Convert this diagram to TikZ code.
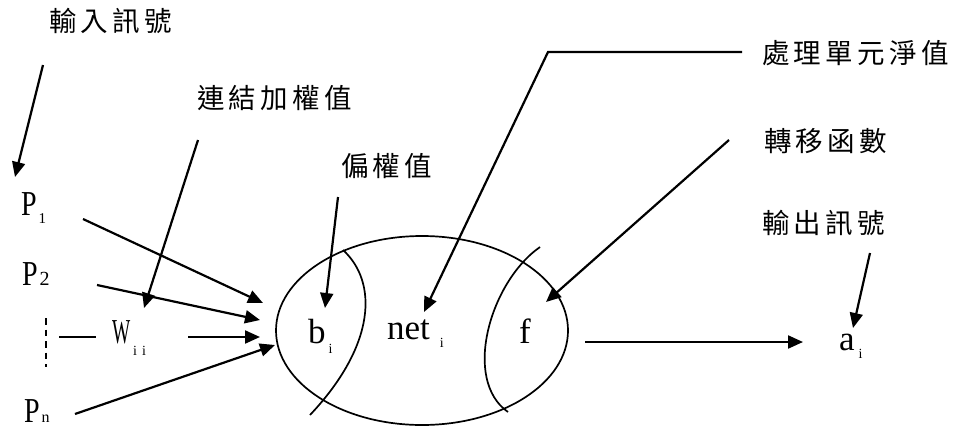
\documentclass[tikz,border=0pt]{standalone}
\usepackage{fontspec}
\usetikzlibrary{arrows.meta,shapes.geometric}
\newfontfamily\cjkf[LetterSpace=16]{Noto Sans CJK TC}
\newfontfamily\latf{Liberation Serif}
\newcommand\cjktxt{\cjkf\fontsize{27.5}{27.5}\selectfont}
\newcommand\lattxt{\latf\fontsize{35}{35}\selectfont}
\newcommand\subsc[3]{\hspace{#1pt}\raisebox{-#2pt}{\fontsize{14}{14}\selectfont #3}}
\newcommand\condP{\scalebox{0.8}[1]{P}}
\tikzset{
  lbl/.style={anchor=base west, inner sep=0pt, outer sep=0pt, font=\cjktxt},
  ltx/.style={anchor=base west, inner sep=0pt, outer sep=0pt, font=\lattxt},
  arr/.style={line width=2.2pt, -{Triangle[length=15pt,width=13pt]}},
  ln/.style={line width=2.2pt},
  fine/.style={line width=1.7pt},
}
\begin{document}
\begin{tikzpicture}[x=1pt,y=-1pt]
\path[use as bounding box] (0,0) rectangle (953,431);

% Chinese labels
\node[lbl] (tIn)  at (49,31)   {輸入訊號};
\node[lbl] (tW)   at (197,108) {連結加權值};
\node[lbl] (tB)   at (341,176) {偏權值};
\node[lbl] (tNet) at (762,63)  {處理單元淨值};
\node[lbl] (tF)   at (764,151) {轉移函數};
\node[lbl] (tOut) at (762,233) {輸出訊號};

% Latin labels
\node[ltx] (p1) at (21,215)  {\condP\hspace{2pt}\raisebox{-8pt}{\fontsize{15}{15}\selectfont 1}};
\node[ltx] (p2) at (22,285)  {\condP\hspace{2pt}{\fontsize{20}{20}\selectfont 2}};
\node[ltx] (pn) at (24,422)  {\condP\hspace{2pt}{\fontsize{16}{16}\selectfont n}};
\node[ltx] (w)  at (112,343) {\scalebox{0.55}[1]{W}\subsc{3}{12}{i}\subsc{5}{12}{i}};
\node[ltx] (b)  at (308,343) {b\subsc{3}{10}{i}};
\node[ltx] (net) at (387,339) {net\subsc{10}{8}{i}};
\node[ltx] (f)  at (519,343) {f};
\node[ltx] (a)  at (839,350) {a\subsc{4}{8}{i}};

% neuron body
\node[draw, ellipse, fine, minimum width=292pt, minimum height=189pt, inner sep=0pt] (cell) at (422,330.5) {};
\coordinate (bTop) at (343,250);
\coordinate (bBot) at (310,415);
\coordinate (fTop) at (540,247);
\coordinate (fBot) at (508,412);
\draw[fine] (bTop) .. controls (378,282) and (376,345) .. (bBot);
\draw[fine] (fTop) .. controls (490,282) and (462,380) .. (fBot);

% input side
\coordinate (inS) at (43,65);   \coordinate (inE) at (15,177);
\coordinate (p1S) at (83,219);  \coordinate (p1E) at (263,303);
\coordinate (p2S) at (97,285);  \coordinate (p2E) at (260,320);
\coordinate (wS) at (188,337);  \coordinate (wE) at (260,337);
\coordinate (pnS) at (75,414);  \coordinate (pnE) at (275,345);
\coordinate (dashT) at (46,318); \coordinate (dashB) at (46,367);
\coordinate (shL) at (59,337);  \coordinate (shR) at (96,337);
\draw[arr] (inS) -- (inE);
\draw[arr] (p1S) -- (p1E);
\draw[arr] (p2S) -- (p2E);
\draw[arr] (wS) -- (wE);
\draw[arr] (pnS) -- (pnE);
\draw[fine, dash pattern=on 6.5pt off 5pt] (dashT) -- (dashB);
\draw[ln] (shL) -- (shR);

% pointer lines
\coordinate (wtS) at (198,140);  \coordinate (wtE) at (144,308);
\coordinate (biS) at (338,197);  \coordinate (biE) at (325,308);
\coordinate (ntS) at (742,52);   \coordinate (ntC) at (548,52);  \coordinate (ntE) at (424,312);
\coordinate (tfS) at (729,140);  \coordinate (tfE) at (546,302);
\coordinate (osS) at (870,253);  \coordinate (osE) at (853,328);
\draw[arr] (wtS) -- (wtE);
\draw[arr] (biS) -- (biE);
\draw[arr] (ntS) -- (ntC) -- (ntE);
\draw[arr] (tfS) -- (tfE);
\draw[arr] (osS) -- (osE);

% output
\coordinate (outS) at (585,342); \coordinate (outE) at (803,342);
\draw[arr] (outS) -- (outE);
\end{tikzpicture}
\end{document}
